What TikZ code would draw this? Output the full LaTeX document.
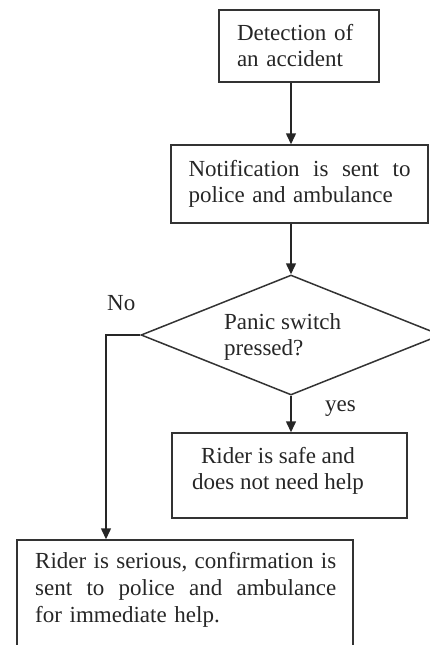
\documentclass[tikz,border=0pt]{standalone}
\usepackage{fontspec}
\setmainfont{Liberation Serif}
\usetikzlibrary{shapes.geometric,arrows.meta}
\begin{document}
\begin{tikzpicture}[x=1pt,y=-1pt,
  box/.style={draw=black!80, line width=1.5pt, inner sep=0pt, font=\fontsize{23}{26}\selectfont, text=black!85},
  txt/.style={inner sep=0pt, font=\fontsize{23}{26}\selectfont, text=black!85},
  arr/.style={draw=black!85, line width=1.5pt, -{Triangle[length=11pt,width=10pt]}},
  ln/.style={draw=black!85, line width=1.5pt}]
\useasboundingbox (0,0) rectangle (430,645);
\node[box, minimum width=160pt, minimum height=72pt, text width=124pt, align=left] (b1) at (299,46) {Detection of\\an accident};
\node[box, minimum width=257pt, minimum height=78pt, text width=222pt, align=left] (b2) at (299.5,184) {Notification\hfill is\hfill sent\hfill to\\police and ambulance};
\node[box, diamond, minimum width=300pt, minimum height=120pt] (d) at (291,335) {};
\node[txt, anchor=west, align=left] (dt) at (224,337) {Panic switch\\pressed?};
\node[box, minimum width=235pt, minimum height=85pt] (b3) at (289.5,475.5) {};
\node[txt, align=center] (b3t) at (278,471) {Rider is safe and\\does not need help};
\node[box, minimum width=336pt, minimum height=115pt] (b4) at (185,597.5) {};
\node[txt, anchor=west, text width=301pt, align=left, font=\fontsize{23}{27}\selectfont] (b4t) at (35,590) {Rider\hfill is\hfill serious,\hfill confirmation\hfill is\\sent\hfill to\hfill police\hfill and\hfill ambulance\\for immediate help.};
\node[txt, anchor=west] (no) at (107,303) {No};
\node[txt, anchor=west] (yes) at (325,409) {yes};
\coordinate (nx) at (106,335);
\draw[arr] (d.north |- b1.south) -- (d.north |- b2.north);
\draw[arr] (d.north |- b2.south) -- (d.north);
\draw[arr] (d.south) -- (d.south |- b3.north);
\draw[arr] (d.west) -- (nx) -- (nx |- b4.north);
\end{tikzpicture}
\end{document}
